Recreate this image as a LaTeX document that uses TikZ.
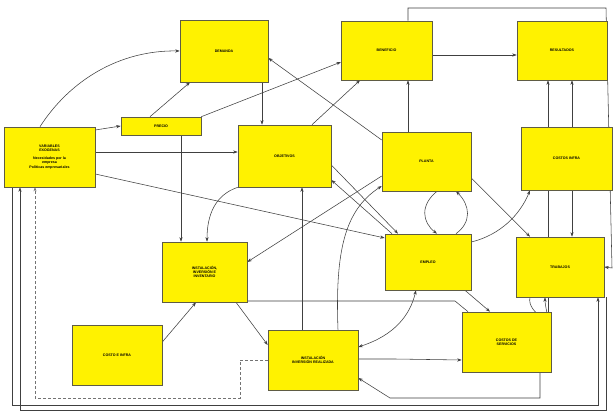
\documentclass[tikz,border=0pt]{standalone}
\usepackage{fontspec}
\setmainfont{Liberation Sans}
\usetikzlibrary{arrows.meta,calc}
\pgfdeclarelayer{bg}
\pgfsetlayers{bg,main}
\begin{document}
\begin{tikzpicture}[x=1pt,y=-1pt,
  box/.style={draw=black!60!yellow!70!black,line width=0.6pt,fill=yellow,inner sep=1pt,align=center,
    font=\fontsize{3.6}{4.4}\selectfont\bfseries},
  con/.style={draw=black!75,line width=0.55pt},
  arr/.style={con,-{Stealth[length=4.5pt,width=3.2pt]}},
  darr/.style={con,{Stealth[length=4.5pt,width=3.2pt]}-{Stealth[length=4.5pt,width=3.2pt]}},
  dsh/.style={draw=black!55,line width=0.5pt,densely dashed,-{Stealth[length=4pt,width=3pt]}}]
\begin{pgfonlayer}{bg}
\fill[white] (0,0) rectangle (616,412);
\end{pgfonlayer}
\useasboundingbox (0,0) rectangle (616,412);
% boxes
\node[box,minimum width=91pt,minimum height=60pt] (var) at (49.5,157) {VARIABLES\\EXOGENAS\\[3pt]Necesidades por la\\empresa\\Políticas empresariales};
\node[box,minimum width=88pt,minimum height=62pt] (dem) at (224,51) {DEMANDA};
\node[box,minimum width=91pt,minimum height=59pt] (ben) at (386.5,50.5) {BENEFICIO};
\node[box,minimum width=90pt,minimum height=59pt] (res) at (562,50.5) {RESULTADOS};
\node[box,minimum width=80pt,minimum height=18pt] (pre) at (161,126) {PRECIO};
\node[box,minimum width=93pt,minimum height=62pt] (obj) at (284.5,156) {OBJETIVOS};
\node[box,minimum width=89pt,minimum height=59pt] (pla) at (426.5,161.5) {PLANTA};
\node[box,minimum width=91pt,minimum height=63pt] (cos) at (566.5,158.5) {COSTOS INFRA};
\node[box,minimum width=85pt,minimum height=60pt] (ins) at (204.5,272) {INSTALACIÓN,\\INVERSIÓN E\\INVENTARIO};
\node[box,minimum width=86pt,minimum height=56pt] (emp) at (428,262) {EMPLEO};
\node[box,minimum width=88pt,minimum height=60pt] (tra) at (560,267) {TRABAJOS};
\node[box,minimum width=90pt,minimum height=60pt] (cin) at (117,355) {COSTO E INFRA};
\node[box,minimum width=90pt,minimum height=60pt] (iir) at (313,360) {INSTALACIÓN\\INVERSIÓN REALIZADA};
\node[box,minimum width=89pt,minimum height=60pt] (cse) at (506.5,342) {COSTOS DE\\SERVICIOS};
\coordinate (tl) at (408,8);
\coordinate (tr) at (606,8);
% connectors
\begin{pgfonlayer}{bg}
\draw[arr] (40,0 |- var.north) .. controls (70,80) and (120,50) .. (dem.west);
\draw[arr] (var.east |- 0,130) -- (pre.west);
\draw[arr] (150,0 |- pre.north) -- (190,0 |- dem.south);
\draw[arr] (pre.north east) -- (341,62);
\draw[arr] (var.east |- 0,152) -- (obj.west |- 0,152);
\draw[arr] (var.east |- 0,174) -- (emp.west |- 0,238);
\draw[arr] (262,0 |- dem.south) -- (262,0 |- obj.north);
\draw[arr] (312,0 |- obj.north) -- (360,0 |- ben.south);
\draw[arr] (408,0 |- pla.north) -- (408,0 |- ben.south);
\draw[arr] (pla.west |- 0,140) -- (dem.east |- 0,58);
\draw[arr] (ben.east |- 0,55) -- (res.west |- 0,55);
\draw[arr] (obj.east |- 0,165) -- (398,0 |- emp.north);
\draw[arr] (pla.west |- 0,176) -- (ins.east |- 0,262);
\draw[arr] (emp.north -| 392,0) -- (obj.east |- 0,180);
\draw[arr] (437,0 |- pla.south) .. controls (420,205) and (422,222) .. (437,0 |- emp.north);
\draw[arr] (456,0 |- emp.north) .. controls (472,222) and (470,205) .. (456,0 |- pla.south);
\draw[arr] (181,0 |- pre.south) -- (181,0 |- ins.north);
\draw[arr] (obj.south west) .. controls (215,195) and (207,215) .. (207,0 |- ins.north);
\draw[arr] (236,0 |- ins.south) -- (iir.west |- 0,345);
\draw[arr] (cin.east |- 0,342) -- (196,0 |- ins.south);
\draw[darr] (iir.east |- 0,347) .. controls (395,335) and (410,315) .. (416,0 |- emp.south);
\draw[arr] (iir.east |- 0,359) -- (395,359) -- (cse.west |- 0,360);
\draw[arr] (540,0 |- cse.south) -- (540,398) -- (390,398) -- (iir.east |- 0,378);
\draw[arr] (302,0 |- iir.north) -- (302,0 |- obj.south);
\draw[arr] (338,0 |- iir.north) .. controls (335,250) and (345,210) .. (pla.west |- 0,186);
\draw[con] (ins.east |- 0,301) -- (455,301) -- (468,0 |- cse.north);
\draw[dsh] (iir.west) -- (240,0 |- iir.west) -- (240,398) -- (35,398) -- (35,0 |- var.south);
\draw[arr] (465,0 |- emp.south) -- (490,0 |- cse.north);
\draw[arr] (emp.east |- 0,242) .. controls (500,235) and (520,215) .. (530,0 |- cos.south);
\draw[arr] (pla.east |- 0,178) -- (530,0 |- tra.north);
\draw[arr] (572,0 |- cos.south) -- (572,0 |- tra.north);
\draw[arr] (572,0 |- cos.north) -- (572,0 |- res.south);
\draw[arr] (548,0 |- cse.north) -- (548,0 |- res.south);
\draw[arr] (408,0 |- ben.north) -- (tl) -- (tr) -- (612,268) -- (tra.east);
\draw[arr] (530,0 |- tra.south) .. controls (528,305) and (535,315) .. (cse.east |- 0,322);
\draw[arr] (cse.east |- 0,332) .. controls (548,318) and (545,305) .. (545,0 |- tra.south);
\draw[arr] (12,0 |- var.south) -- (12,405) -- (598,405) -- (598,0 |- tra.south);
\draw[arr] (606,0 |- tra.south) -- (606,410) -- (20,410) -- (20,0 |- var.south);
\end{pgfonlayer}
\end{tikzpicture}
\end{document}
